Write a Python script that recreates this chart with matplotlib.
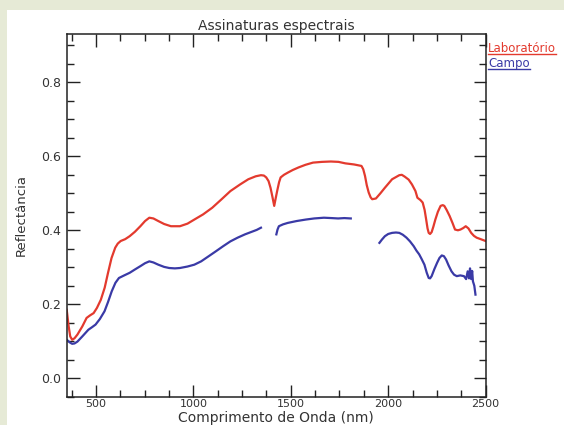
import matplotlib
matplotlib.use("Agg")
import matplotlib.pyplot as plt
from matplotlib.patches import Rectangle
from matplotlib.lines import Line2D
from matplotlib.ticker import MultipleLocator

# Espectro de laboratorio (nm, reflectancia)
lab_nm = [350, 360, 368, 378, 390, 405, 430, 452, 470, 488, 505, 525, 545, 562, 580, 599,
          612, 627, 650, 673, 700, 728, 752, 774, 795, 820, 850, 885, 931, 970, 1005,
          1050, 1097, 1145, 1190, 1240, 1282, 1320, 1347, 1362, 1374, 1386, 1396, 1406,
          1415, 1422, 1430, 1440, 1448, 1465, 1485, 1510, 1540, 1575, 1614, 1660, 1706,
          1745, 1780, 1825, 1863, 1872, 1881, 1890, 1900, 1910, 1918, 1937, 1960, 1983,
          2020, 2057, 2070, 2085, 2105, 2122, 2140, 2150, 2165, 2177, 2187, 2195, 2202,
          2208, 2215, 2223, 2232, 2242, 2255, 2269, 2280, 2288, 2300, 2315, 2330, 2343,
          2358, 2371, 2385, 2398, 2412, 2426, 2440, 2454, 2475, 2500]
lab_refl = [0.185, 0.140, 0.113, 0.104, 0.108, 0.118, 0.140, 0.163, 0.170, 0.176, 0.190,
            0.212, 0.245, 0.285, 0.325, 0.353, 0.364, 0.371, 0.376, 0.384, 0.396, 0.411,
            0.425, 0.434, 0.432, 0.425, 0.417, 0.411, 0.411, 0.418, 0.429, 0.443, 0.461,
            0.484, 0.506, 0.524, 0.538, 0.546, 0.549, 0.548, 0.543, 0.533, 0.515, 0.490,
            0.466, 0.485, 0.506, 0.530, 0.543, 0.550, 0.556, 0.563, 0.570, 0.577, 0.583,
            0.585, 0.586, 0.585, 0.581, 0.578, 0.574, 0.565, 0.547, 0.522, 0.502, 0.489,
            0.484, 0.486, 0.500, 0.515, 0.538, 0.549, 0.550, 0.545, 0.537, 0.524, 0.506,
            0.488, 0.482, 0.475, 0.455, 0.429, 0.405, 0.393, 0.390, 0.395, 0.410, 0.429,
            0.450, 0.466, 0.468, 0.466, 0.455, 0.439, 0.420, 0.402, 0.400, 0.402, 0.406,
            0.411, 0.405, 0.393, 0.385, 0.380, 0.376, 0.371]

# Espectro de campo, em tres trechos (bandas de absorcao da agua removidas)
campo1_nm = [350, 365, 378, 390, 405, 430, 461, 480, 498, 520, 544, 562, 581, 600, 618,
             645, 673, 700, 728, 752, 774, 795, 820, 850, 876, 905, 931, 970, 1005, 1040,
             1079, 1115, 1153, 1190, 1227, 1265, 1300, 1325, 1347]
campo1_refl = [0.104, 0.097, 0.093, 0.094, 0.099, 0.113, 0.131, 0.138, 0.145, 0.160,
               0.181, 0.206, 0.235, 0.258, 0.271, 0.278, 0.285, 0.294, 0.303, 0.311,
               0.316, 0.313, 0.307, 0.301, 0.298, 0.297, 0.298, 0.302, 0.307, 0.316,
               0.330, 0.343, 0.357, 0.370, 0.380, 0.389, 0.396, 0.401, 0.407]
campo2_nm = [1426, 1432, 1439, 1460, 1485, 1530, 1577, 1620, 1670, 1710, 1743, 1775, 1808]
campo2_refl = [0.389, 0.402, 0.411, 0.416, 0.420, 0.425, 0.429, 0.432, 0.434, 0.433,
               0.432, 0.433, 0.432]
campo3_nm = [1955, 1968, 1983, 2000, 2020, 2040, 2057, 2075, 2094, 2112, 2131, 2145, 2159,
             2172, 2186, 2198, 2208, 2215, 2223, 2237, 2251, 2263, 2275, 2286, 2297, 2310,
             2325, 2338, 2352, 2370, 2389, 2400, 2408, 2415, 2420, 2426, 2431, 2435, 2442,
             2448]
campo3_refl = [0.366, 0.375, 0.384, 0.390, 0.393, 0.394, 0.393, 0.388, 0.380, 0.370,
               0.357, 0.345, 0.335, 0.322, 0.307, 0.285, 0.271, 0.270, 0.276, 0.295,
               0.312, 0.325, 0.332, 0.330, 0.321, 0.305, 0.289, 0.280, 0.276, 0.278,
               0.276, 0.268, 0.289, 0.270, 0.297, 0.268, 0.290, 0.262, 0.250, 0.226]

RED = "#e33a2e"
BLUE = "#3a3aa6"
TXT = "#333333"

fig = plt.figure(figsize=(5.64, 4.25), dpi=100)
fig.patch.set_facecolor("#e6ead6")
fig.patches.append(Rectangle((7 / 564, 0), 1, 1 - 10 / 425, transform=fig.transFigure,
                             facecolor="white", edgecolor="none", zorder=-1))

ax = fig.add_axes([0.1183, 0.0666, 0.7427, 0.8527])
ax.set_facecolor("white")

ax.plot(lab_nm, lab_refl, color=RED, linewidth=1.6)
ax.plot(campo1_nm, campo1_refl, color=BLUE, linewidth=1.6)
ax.plot(campo2_nm, campo2_refl, color=BLUE, linewidth=1.6)
ax.plot(campo3_nm, campo3_refl, color=BLUE, linewidth=1.6)

ax.set_xlim(350, 2500)
ax.set_ylim(-0.05, 0.93)
ax.set_xticks([500, 1000, 1500, 2000, 2500])
ax.set_yticks([0.0, 0.2, 0.4, 0.6, 0.8])
ax.set_yticklabels(["0.0", "0.2", "0.4", "0.6", "0.8"])
ax.xaxis.set_minor_locator(MultipleLocator(125))
ax.yaxis.set_minor_locator(MultipleLocator(0.05))
ax.tick_params(which="both", direction="in", top=True, right=True,
               colors="#222222", labelcolor=TXT, labelsize=9, width=1)
ax.tick_params(which="major", length=9)
ax.tick_params(which="minor", length=5)
ax.tick_params(axis="x", pad=2, labelsize=8)
ax.tick_params(axis="y", pad=4)
for spine in ax.spines.values():
    spine.set_color("#222222")
    spine.set_linewidth(1.1)

ax.set_title("Assinaturas espectrais", fontsize=10, color=TXT, pad=3)
ax.set_xlabel("Comprimento de Onda (nm)", fontsize=10, color=TXT)
ax.xaxis.set_label_coords(0.5, -0.040)
ax.set_ylabel("Reflectância", fontsize=9.5, color=TXT)
ax.yaxis.set_label_coords(-0.092, 0.5)

# legenda sublinhada no canto direito
leg = [("Laboratório", RED, 1 - 52 / 425), ("Campo", BLUE, 1 - 67 / 425)]
texts = []
for label, col, y in leg:
    texts.append(fig.text(488 / 564, y, label, color=col, fontsize=8.5,
                          ha="left", va="baseline"))
fig.canvas.draw()
inv = fig.transFigure.inverted()
for t, (label, col, y) in zip(texts, leg):
    bb = t.get_window_extent().transformed(inv)
    fig.add_artist(Line2D([bb.x0, bb.x1], [y - 1.5 / 425] * 2, color=col,
                          linewidth=1, transform=fig.transFigure))

fig.savefig("out.png", dpi=100, facecolor=fig.get_facecolor())
